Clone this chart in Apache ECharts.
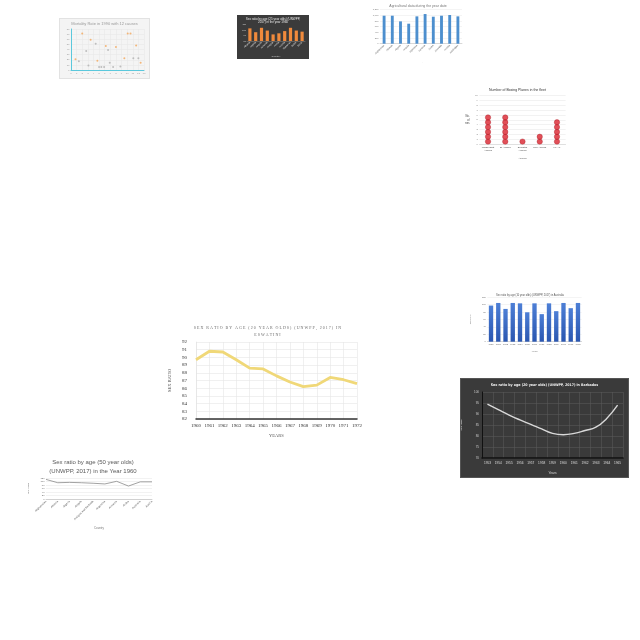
<!DOCTYPE html>
<html>
<head>
<meta charset="utf-8">
<script src="https://cdn.jsdelivr.net/npm/echarts@6/dist/echarts.min.js"></script>
<style>
  html, body { margin:0; padding:0; background:#fff; }
  body { width:640px; height:640px; position:relative; overflow:hidden; }
  .box { position:absolute; }
</style>
</head>
<body>
<div id="c1" class="box" style="left:59px;top:18px;width:91px;height:61px;background:#f4f4f4;border:1px solid #e2e2e2;box-sizing:border-box;"></div>
<div id="c2" class="box" style="left:237px;top:15px;width:72px;height:44px;background:#3b3b3b;"></div>
<div id="c3" class="box" style="left:368px;top:3px;width:100px;height:60px;"></div>
<div id="c4" class="box" style="left:465px;top:85px;width:105px;height:75px;"></div>
<div id="c5" class="box" style="left:165px;top:320px;width:205px;height:120px;"></div>
<div id="c6" class="box" style="left:470px;top:290px;width:120px;height:70px;"></div>
<div id="c7" class="box" style="left:460px;top:378px;width:169px;height:100px;background:#3a3a3a;border:1px solid #555;box-sizing:border-box;"></div>
<div id="c8" class="box" style="left:28px;top:455px;width:130px;height:78px;"></div>
<script>
// ---- data ----
var mortOrange = [[0.8,21],[2.0,71],[3.5,59],[4.7,18],[6.2,47],[8.0,45],[9.5,23],[10.1,71],[10.6,71],[11.6,48],[12.4,14]];
var mortGray = [[1.4,17],[2.7,37],[3.1,9],[4.4,51],[5.0,6],[5.4,6],[5.9,6],[6.6,39],[6.9,14],[7.5,6],[8.8,7],[11.1,23],[12.0,23]];

var c2Cats = ['Albania','Algeria','Angola','Armenia','Antigua','Aruba','Austria','Bahamas','Belize','Benin'];
var c2Vals = [103, 96, 104, 99, 92, 94, 98, 104, 99, 97];

var agriCats = ['Afghanistan','Albania','Algeria','Angola','Argentina','Armenia','Aruba','Australia','Austria','Azerbaijan'];
var agriVals = [988, 988, 788, 706, 965, 1047, 953, 988, 1012, 965];

var airlines = ['Middle East\nAirlines','EI Airlines','Emirates\nAirlines','Lion Airlines','Fly Air'];
var planes = [6, 6, 1, 2, 5];

var eswYears = ['1960','1961','1962','1963','1964','1965','1966','1967','1968','1969','1970','1971','1972'];
var eswRatio = [89.7, 90.8, 90.7, 89.7, 88.6, 88.5, 87.6, 86.8, 86.2, 86.4, 87.4, 87.1, 86.6];

var ausYears = ['1950','1951','1952','1953','1954','1955','1956','1957','1958','1959','1960','1961','1962'];
var ausRatio = [97, 104, 88, 104, 103, 79, 103, 74, 103, 82, 104, 90, 104];

var barYears = ['1953','1954','1955','1956','1957','1958','1959','1960','1961','1962','1963','1964','1965'];
var barRatio = [94.5, 92, 89.5, 87.3, 85.3, 83.2, 81.2, 80.6, 81.2, 82.5, 84, 88, 94];

var c8Countries = ['Afghanistan','Albania','Algeria','Angola','Antigua and Barbuda','Argentina','Armenia','Aruba','Australia','Austria'];
var c8Ratio = [112, 93, 95, 93, 90, 86, 101, 74, 98, 98];

var sans = 'Liberation Sans, Arial, sans-serif';

function mk(id, option) {
    var ch = echarts.init(document.getElementById(id));
    // keep the grid where we put it, labels may hang outside
    option.grid.outerBoundsMode = 'none';
    option.grid.containLabel = false;
    ch.setOption(option);
    return ch;
}

// chart 1 - scatter
mk('c1', {
    animation:false,
    title:{text:'Mortality Rate in 1990 with 12 causes', left:'center', top:2.5, padding:0,
        textStyle:{fontSize:4, color:'#999', fontWeight:'normal', fontFamily:sans}},
    grid:{left:11, right:5, top:10, bottom:8},
    xAxis:{type:'value', min:0, max:13, interval:1, name:'Causes', nameLocation:'middle', nameGap:4,
        nameTextStyle:{fontSize:2.5, color:'#999'},
        axisLine:{lineStyle:{color:'#5bc8dc', width:1}}, axisTick:{show:false},
        axisLabel:{fontSize:2.5, color:'#999', margin:1.5}, splitLine:{lineStyle:{color:'#e6e6e6', width:0.5}}},
    yAxis:{type:'value', min:0, max:80, interval:10, name:'Death rate', nameLocation:'middle', nameGap:6,
        nameTextStyle:{fontSize:2.5, color:'#999'},
        axisLine:{show:true, lineStyle:{color:'#5bc8dc', width:1}}, axisTick:{show:false},
        axisLabel:{fontSize:2.5, color:'#999', margin:1.5}, splitLine:{lineStyle:{color:'#e6e6e6', width:0.5}}},
    series:[
        {type:'scatter', data:mortOrange, symbolSize:2, itemStyle:{color:'#f2a65a'}},
        {type:'scatter', data:mortGray, symbolSize:2, itemStyle:{color:'#b0b0b0'}}
    ]
});

// chart 2 - dark bars
mk('c2', {
    animation:false,
    title:{text:'Sex ratio by age (25 year olds) (UNWPP,\n2017) in the year 1960', left:'center', top:2, padding:0,
        textStyle:{fontSize:3, lineHeight:3.6, color:'#e8e8e8', fontWeight:'normal', fontFamily:sans}},
    grid:{left:10, right:4, top:9.5, bottom:18},
    xAxis:{type:'category', data:c2Cats, name:'Country', nameLocation:'middle', nameGap:14,
        nameTextStyle:{fontSize:2.5, color:'#ccc'},
        axisLine:{lineStyle:{color:'#888', width:0.5}}, axisTick:{show:false},
        axisLabel:{fontSize:2.4, color:'#ddd', rotate:45, margin:1, interval:0}},
    yAxis:{type:'value', min:80, max:110, interval:10, name:'Sex ratio', nameLocation:'middle', nameGap:6,
        nameTextStyle:{fontSize:2.5, color:'#7fd37f'},
        axisLabel:{fontSize:2.2, color:'#ddd', margin:1}, splitLine:{show:false}},
    series:[{type:'bar', data:c2Vals, barWidth:'55%', itemStyle:{color:'#f08a3c'}}]
});

// chart 3 - blue bars
mk('c3', {
    animation:false,
    title:{text:'Agricultural data during the year date', left:'center', top:1.5, padding:0,
        textStyle:{fontSize:3.5, color:'#777', fontWeight:'normal', fontFamily:sans}},
    grid:{left:12, right:6, top:6.7, bottom:19.3},
    xAxis:{type:'category', data:agriCats, name:'Country', nameLocation:'middle', nameGap:15,
        nameTextStyle:{fontSize:2.5, color:'#777'},
        axisLine:{lineStyle:{color:'#bbb', width:0.5}}, axisTick:{show:false},
        axisLabel:{fontSize:2.4, color:'#666', rotate:45, margin:1.5, interval:0}},
    yAxis:{type:'value', min:0, max:1200, interval:200, name:'Agricultural value', nameLocation:'middle', nameGap:8,
        nameTextStyle:{fontSize:2.3, color:'#777'},
        axisLabel:{fontSize:2.3, color:'#777', margin:1.5}, splitLine:{lineStyle:{color:'#e8e8e8', width:0.5}}},
    series:[{type:'bar', data:agriVals, barWidth:'35%', itemStyle:{color:'#4d8fce'}}]
});

// chart 4 - pictograph dots
var dots = [];
for (var i = 0; i < planes.length; i++) {
    for (var k = 0; k < planes[i]; k++) dots.push([i, k + 0.5]);
}
mk('c4', {
    animation:false,
    title:{text:'Number of Boxing Planes in the fleet', left:'center', top:3.5, padding:0,
        textStyle:{fontSize:3.5, color:'#333', fontWeight:'normal', fontFamily:sans}},
    grid:{left:14.4, right:4.4, top:10.7, bottom:16},
    xAxis:{type:'category', data:airlines, name:'Airlines', nameLocation:'middle', nameGap:11,
        nameTextStyle:{fontSize:2.5, color:'#555'},
        axisLine:{lineStyle:{color:'#ccc', width:0.5}}, axisTick:{show:false},
        axisLabel:{fontSize:2.4, color:'#444', margin:2, interval:0, lineHeight:3}},
    yAxis:{type:'value', min:0, max:10, interval:1, name:'No.\nof\nplanes', nameLocation:'middle', nameGap:7,
        nameRotate:0, nameTextStyle:{fontSize:2.6, color:'#333', lineHeight:3.5},
        axisLabel:{fontSize:2.3, color:'#777', margin:1.5}, splitLine:{lineStyle:{color:'#e4e4e4', width:0.5}}},
    series:[{type:'scatter', data:dots, symbolSize:5.4,
        itemStyle:{color:'#d9232e', borderColor:'#9c1018', borderWidth:0.4}}]
});

// chart 5 - Eswatini line
var serif = 'Liberation Serif, DejaVu Serif, serif';
mk('c5', {
    animation:false,
    title:{text:'S E X   R A T I O   B Y   A G E   ( 2 0   Y E A R   O L D S )   ( U N W P P ,   2 0 1 7 )   I N\nE S W A T I N I',
        left:'center', top:4, padding:0,
        textStyle:{fontSize:4, lineHeight:7, color:'#6b6b6b', fontWeight:'normal', fontFamily:serif}},
    grid:{left:31, right:13, top:22, bottom:21},
    xAxis:{type:'category', data:eswYears, boundaryGap:false, name:'YEARS', nameLocation:'middle', nameGap:12,
        nameTextStyle:{fontSize:4.5, color:'#555', fontFamily:serif},
        axisLine:{lineStyle:{color:'#333', width:1.5}}, axisTick:{show:false},
        axisLabel:{fontSize:5, color:'#333', fontFamily:serif, margin:4, interval:0},
        splitLine:{show:true, interval:0, lineStyle:{color:'#e6e6e6', width:0.6}}},
    yAxis:{type:'value', min:82, max:92, interval:1, name:'SEX RATIO', nameLocation:'middle', nameGap:24,
        nameMoveOverlap:false,
        nameTextStyle:{fontSize:4.5, color:'#555', fontFamily:serif},
        axisLine:{show:true, lineStyle:{color:'#e0e0e0', width:0.6}}, axisTick:{show:false},
        axisLabel:{fontSize:5, color:'#333', fontFamily:serif, margin:9},
        splitLine:{lineStyle:{color:'#e6e6e6', width:0.6}}},
    series:[{type:'line', data:eswRatio, symbol:'none', lineStyle:{color:'#f0d878', width:2.8}}]
});

// chart 6 - Australia bars
mk('c6', {
    animation:false,
    title:{text:'Sex ratio by age (10 year olds) (UNWPP, 2017) in Australia', left:'center', top:4, padding:0,
        textStyle:{fontSize:2.6, color:'#555', fontWeight:'normal', fontFamily:sans}},
    grid:{left:17.4, right:8.4, top:7, bottom:18.3},
    xAxis:{type:'category', data:ausYears, name:'Years', nameLocation:'middle', nameGap:8,
        nameTextStyle:{fontSize:2.4, color:'#777'},
        axisLine:{lineStyle:{color:'#bbb', width:0.5}}, axisTick:{show:false},
        axisLabel:{fontSize:2.3, color:'#666', margin:2, interval:0}},
    yAxis:{type:'value', min:0, max:120, interval:20, name:'Sex Ratio', nameLocation:'middle', nameGap:8,
        nameTextStyle:{fontSize:2.3, color:'#777'},
        axisLabel:{fontSize:2.3, color:'#666', margin:1.5}, splitLine:{lineStyle:{color:'#e8e8e8', width:0.5}}},
    series:[{type:'bar', data:ausRatio, barWidth:'60%',
        itemStyle:{color:new echarts.graphic.LinearGradient(0,0,0,1,[{offset:0,color:'#4d7fd6'},{offset:1,color:'#2a56b0'}])}}]
});

// chart 7 - Barbados dark line
mk('c7', {
    animation:false,
    title:{text:'Sex ratio by age (20 year olds) (UNWPP, 2017) in Barbados', left:'center', top:4, padding:0,
        textStyle:{fontSize:3.6, color:'#f2f2f2', fontWeight:'bold', fontFamily:'Liberation Sans Narrow, DejaVu Sans Condensed, sans-serif'}},
    grid:{left:21, right:5, top:13, bottom:19},
    xAxis:{type:'category', data:barYears, name:'Years', nameLocation:'middle', nameGap:14,
        nameTextStyle:{fontSize:3.2, color:'#ddd'},
        axisLine:{lineStyle:{color:'#111', width:1.5}}, axisTick:{show:false},
        axisLabel:{fontSize:3.2, color:'#ddd', margin:4, interval:0},
        splitLine:{show:true, lineStyle:{color:'#5c5c5c', width:0.5}}},
    yAxis:{type:'value', min:70, max:100, interval:5, name:'Sex ratio', nameLocation:'middle', nameGap:11,
        nameTextStyle:{fontSize:3, color:'#ddd'},
        axisLine:{show:true, lineStyle:{color:'#111', width:1}}, axisTick:{show:false},
        axisLabel:{fontSize:3, color:'#ccc', margin:3},
        splitLine:{lineStyle:{color:'#5c5c5c', width:0.5}}},
    series:[{type:'line', data:barRatio, smooth:true, symbol:'none', lineStyle:{color:'#d8d8d8', width:1.4}}]
});

// chart 8 - 50 year olds line
mk('c8', {
    animation:false,
    title:{text:'Sex ratio by age (50 year olds)\n(UNWPP, 2017) in the Year 1960', left:'center', top:2.5, padding:0,
        textStyle:{fontSize:6, lineHeight:9, color:'#595959', fontWeight:'normal', fontFamily:sans}},
    grid:{left:18, right:6, top:23, bottom:34},
    xAxis:{type:'category', data:c8Countries, boundaryGap:false, name:'Country', nameLocation:'middle', nameGap:28,
        nameTextStyle:{fontSize:2.8, color:'#777'},
        axisLine:{lineStyle:{color:'#bbb', width:0.6}}, axisTick:{show:false},
        axisLabel:{fontSize:2.8, color:'#666', rotate:45, margin:2, interval:0}},
    yAxis:{type:'value', min:0, max:120, interval:20, name:'Sex Ratio', nameLocation:'middle', nameGap:9,
        nameTextStyle:{fontSize:2.6, color:'#777'},
        axisLabel:{fontSize:2.4, color:'#666', margin:1.5}, splitLine:{lineStyle:{color:'#e4e4e4', width:0.5}}},
    series:[{type:'line', data:c8Ratio, symbol:'none', lineStyle:{color:'#8a8a8a', width:0.8}}]
});
</script>
</body>
</html>
